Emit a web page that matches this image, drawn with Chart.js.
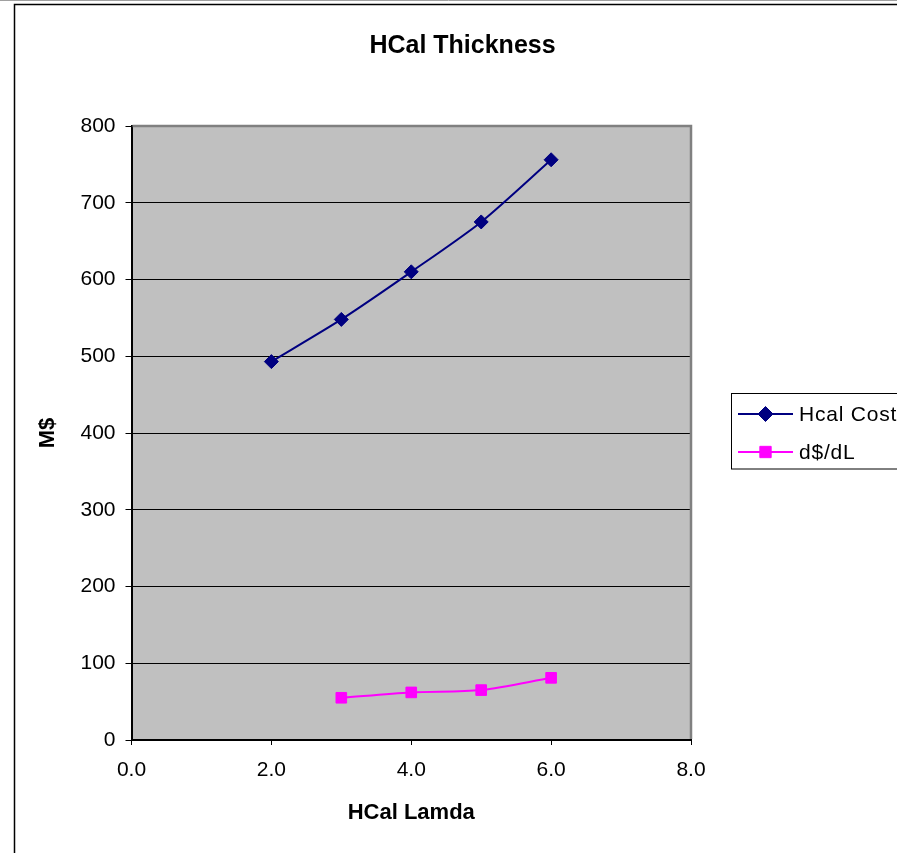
<!DOCTYPE html>
<html>
<head>
<meta charset="utf-8">
<title>HCal Thickness</title>
<script src="https://cdn.jsdelivr.net/npm/chart.js@4/dist/chart.umd.min.js"></script>
<style>
  html, body { margin: 0; padding: 0; background: #ffffff; overflow: hidden; }
  #wrap { width: 897px; height: 853px; }
</style>
</head>
<body>
<div id="wrap"><canvas id="c" width="897" height="853"></canvas></div>
<script>
// HCal cost versus calorimeter depth (interaction lengths)
const lamda = [2, 3, 4, 5, 6];
const hcalCost = [493, 548, 610, 675, 756];

// Incremental cost per added interaction length
const slopeLamda = [3, 4, 5, 6];
const slopeCost = [55, 62, 65, 81];

const seriesNames = ['Hcal Cost', 'd$/dL'];
const xTickValues = [0, 2, 4, 6, 8];
const yTickValues = [0, 100, 200, 300, 400, 500, 600, 700, 800];

const chartTitle = 'HCal Thickness';
const xAxisTitle = 'HCal Lamda';
const yAxisTitle = 'M$';

const FONT = 'Arial, "Liberation Sans", Helvetica, sans-serif';
const NAVY = '#000080';
const MAGENTA = '#FF00FF';
const PLOT_BG = '#C0C0C0';
const PLOT_EDGE = '#808080';

Chart.defaults.font.family = FONT;
Chart.defaults.color = '#000000';

const toPoints = (xs, ys) => xs.map((x, i) => ({ x: x, y: ys[i] }));

// Draws a legend marker in the same style as the plotted points
function drawMarker(ctx, style, x, y, r, color) {
  ctx.save();
  ctx.fillStyle = color;
  ctx.strokeStyle = color;
  ctx.lineWidth = 1;
  ctx.beginPath();
  if (style === 'rectRot') {
    ctx.moveTo(x, y - r);
    ctx.lineTo(x + r, y);
    ctx.lineTo(x, y + r);
    ctx.lineTo(x - r, y);
  } else {
    const s = r * Math.SQRT1_2;
    ctx.rect(x - s, y - s, 2 * s, 2 * s);
  }
  ctx.closePath();
  ctx.fill();
  ctx.stroke();
  ctx.restore();
}

const framePlugin = {
  id: 'frame',
  afterLayout(chart) {
    // centre the title across the whole framed figure
    const t = chart.titleBlock;
    if (t) { t.left = 15; t.right = 910; t.width = 895; }
  },
  beforeDraw(chart) {
    const { ctx, chartArea: a } = chart;
    ctx.save();
    ctx.fillStyle = '#ffffff';
    ctx.fillRect(0, 0, chart.width, chart.height);
    ctx.fillStyle = PLOT_BG;
    ctx.fillRect(a.left, a.top, a.right - a.left, a.bottom - a.top);
    ctx.restore();
  },
  beforeDatasetsDraw(chart) {
    const { ctx, chartArea: a } = chart;
    ctx.save();
    ctx.strokeStyle = PLOT_EDGE;
    ctx.lineWidth = 2.5;
    ctx.beginPath();
    ctx.moveTo(a.left + 1, a.top);
    ctx.lineTo(a.right, a.top);
    ctx.lineTo(a.right, a.bottom - 1);
    ctx.stroke();
    ctx.restore();
  },
  afterDraw(chart) {
    const { ctx } = chart;
    ctx.save();
    // figure border
    ctx.strokeStyle = '#a0a0a0';
    ctx.lineWidth = 1;
    ctx.beginPath();
    ctx.moveTo(0, 0.5);
    ctx.lineTo(chart.width, 0.5);
    ctx.stroke();
    ctx.strokeStyle = '#000000';
    ctx.lineWidth = 1.5;
    ctx.strokeRect(14.5, 4.5, 1000, 1000);

    // legend box
    ctx.lineWidth = 1;
    ctx.strokeStyle = '#000000';
    ctx.fillStyle = '#ffffff';
    ctx.fillRect(731.5, 393.5, 200, 75.5);
    ctx.strokeRect(731.5, 393.5, 200, 75.5);

    const rows = [414, 452];
    chart.data.datasets.forEach((ds, i) => {
      const y = rows[i];
      ctx.strokeStyle = ds.borderColor;
      ctx.lineWidth = 2;
      ctx.beginPath();
      ctx.moveTo(738, y);
      ctx.lineTo(793, y);
      ctx.stroke();
      drawMarker(ctx, ds.pointStyle, 765.5, y, ds.pointRadius + 0.5, ds.pointBackgroundColor);
      ctx.fillStyle = '#000000';
      ctx.font = '21px ' + FONT;
      ctx.letterSpacing = '0.8px';
      ctx.textAlign = 'left';
      ctx.textBaseline = 'middle';
      ctx.fillText(ds.label, 799, y + 1);
      ctx.letterSpacing = '0px';
    });
    ctx.restore();
  }
};

new Chart(document.getElementById('c'), {
  type: 'scatter',
  data: {
    datasets: [
      {
        label: seriesNames[0],
        data: toPoints(lamda, hcalCost),
        showLine: true,
        borderColor: NAVY,
        backgroundColor: NAVY,
        pointBackgroundColor: NAVY,
        pointBorderColor: NAVY,
        borderWidth: 2,
        pointStyle: 'rectRot',
        pointRadius: 7,
        pointBorderWidth: 1,
        tension: 0.25
      },
      {
        label: seriesNames[1],
        data: toPoints(slopeLamda, slopeCost),
        showLine: true,
        borderColor: MAGENTA,
        backgroundColor: MAGENTA,
        pointBackgroundColor: MAGENTA,
        pointBorderColor: MAGENTA,
        borderWidth: 2,
        pointStyle: 'rect',
        pointRadius: 7.5,
        pointBorderWidth: 1,
        tension: 0.3
      }
    ]
  },
  options: {
    responsive: false,
    animation: false,
    devicePixelRatio: 1,
    layout: { padding: { left: 15, right: 206, top: 0, bottom: 0 } },
    plugins: {
      legend: { display: false },
      tooltip: { enabled: false },
      title: {
        display: true,
        text: chartTitle,
        color: '#000000',
        font: { size: 25, weight: 'bold', family: FONT },
        padding: { top: 31, bottom: 65 }
      }
    },
    scales: {
      x: {
        type: 'linear',
        min: 0,
        max: 8,
        afterBuildTicks: (s) => { s.ticks = xTickValues.map(v => ({ value: v })); },
        afterFit: (s) => { s.height = 113; },
        ticks: {
          font: { size: 21, family: FONT },
          color: '#000000',
          padding: 13,
          maxRotation: 0,
          autoSkip: false,
          callback: (v) => Number(v).toFixed(1)
        },
        grid: {
          drawOnChartArea: false,
          drawTicks: true,
          tickLength: 5,
          tickColor: '#000000',
          tickWidth: 1
        },
        border: { display: true, color: '#000000', width: 2 },
        title: {
          display: true,
          text: xAxisTitle,
          color: '#000000',
          font: { size: 22, weight: 'bold', family: FONT },
          padding: { top: 0, bottom: 27 }
        }
      },
      y: {
        type: 'linear',
        min: 0,
        max: 800,
        afterBuildTicks: (s) => { s.ticks = yTickValues.map(v => ({ value: v })); },
        afterFit: (s) => { s.width = 116.5; },
        ticks: {
          font: { size: 21, family: FONT },
          color: '#000000',
          padding: 10,
          autoSkip: false
        },
        grid: {
          color: (c) => (c.tick && c.tick.value === 800 ? PLOT_EDGE : '#000000'),
          lineWidth: 1,
          drawTicks: true,
          tickLength: 6,
          tickColor: '#000000',
          tickWidth: 1
        },
        border: { display: true, color: '#000000', width: 2 },
        title: {
          display: true,
          text: yAxisTitle,
          color: '#000000',
          font: { size: 22, weight: 'bold', family: FONT },
          padding: { top: 20, bottom: 0 }
        }
      }
    }
  },
  plugins: [framePlugin]
});
</script>
</body>
</html>
